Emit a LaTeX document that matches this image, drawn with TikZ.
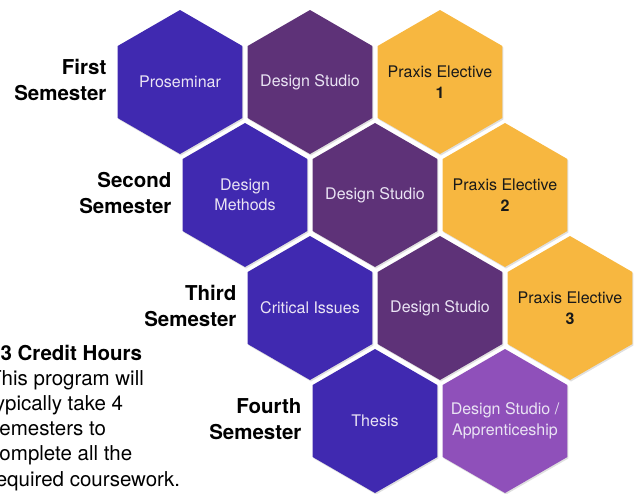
\documentclass[tikz,border=0pt]{standalone}
\usepackage{fontspec}
\setmainfont{TeX Gyre Heros}
\usetikzlibrary{shapes.geometric, shadows, positioning}

\definecolor{coreblue}{RGB}{64,41,176}
\definecolor{studiopurple}{RGB}{94,50,120}
\definecolor{praxisorange}{RGB}{247,183,64}
\definecolor{apprlilac}{RGB}{143,80,186}
\definecolor{softwhite}{RGB}{234,228,244}

\begin{document}
\begin{tikzpicture}
				[x=1pt, y=-1pt,
				hex/.style = {regular polygon, regular polygon sides=6,
				shape border rotate=30, minimum size=144pt, inner sep=0pt,
				outer sep=0pt,
				drop shadow={opacity=0.25, shadow xshift=1pt, shadow yshift=-1.5pt}},
				core/.style = {hex, fill=coreblue},
				studio/.style = {hex, fill=studiopurple},
				praxis/.style = {hex, fill=praxisorange},
				appr/.style = {hex, fill=apprlilac},
				hextext/.style = {align=center, inner sep=0pt,
				font=\fontsize{16}{20.5}\selectfont, text=softwhite},
				praxistext/.style = {hextext, text=black!90},
				sem/.style = {align=right, inner sep=0pt,
				font=\fontsize{20.5}{25.5}\selectfont\bfseries}]
				\clip (0,0) rectangle (640,493);
				% honeycomb: row \r, column \c
				\foreach \r/\c/\s/\n/\l/\t in {
					0/0/core/pros/hextext/{Proseminar},
					0/1/studio/studioA/hextext/{Design Studio},
					0/2/praxis/praxisA/praxistext/{Praxis Elective\\\textbf{1}},
					1/0/core/methods/hextext/{Design\\Methods},
					1/1/studio/studioB/hextext/{Design Studio},
					1/2/praxis/praxisB/praxistext/{Praxis Elective\\\textbf{2}},
					2/0/core/issues/hextext/{Critical Issues},
					2/1/studio/studioC/hextext/{Design Studio},
					2/2/praxis/praxisC/praxistext/{Praxis Elective\\\textbf{3}},
					3/0/core/thesis/hextext/{Thesis},
					3/1/appr/appr/hextext/{Design Studio /\\Apprenticeship}} {
					\node[\s] (\n) at ({180+65*\r+130*\c}, {82+113*\r}) {};
					\node[\l] (\n-txt) at (\n) {\t};
				}
				\node[sem, left=11pt of pros, yshift=2pt] (first) {First\\Semester};
				\node[sem, left=11pt of methods, yshift=2pt] (second) {Second\\Semester};
				\node[sem, left=11pt of issues, yshift=2pt] (third) {Third\\Semester};
				\node[sem, left=11pt of thesis, yshift=2pt] (fourth) {Fourth\\Semester};
				\node[align=left, inner sep=0pt, anchor=base west,
				font=\fontsize{20.5}{25.2}\selectfont] (credits) at (-11, 486)
				{\textbf{\hphantom{6}3 Credit Hours}\\This program will\\typically take 4\\semesters to\\complete all the\\required coursework.};
			\end{tikzpicture}
\end{document}
